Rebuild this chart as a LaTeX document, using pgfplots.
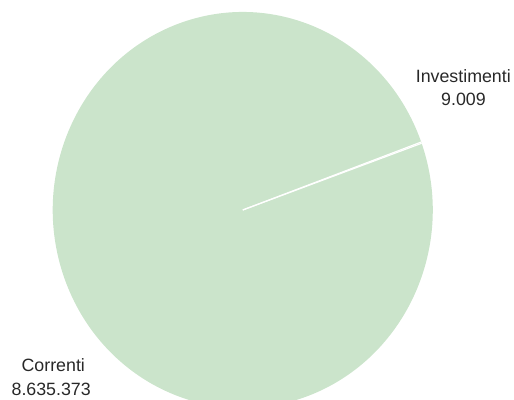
\documentclass[border=0pt]{standalone}
\usepackage{pgfplots}
\pgfplotsset{compat=1.18}
\usepackage{pgfplotstable}
\usepackage{fontspec}
\setmainfont{Liberation Sans}
\definecolor{piegreen}{RGB}{203,228,203}
\definecolor{txt}{RGB}{40,40,40}
\pgfplotstableread{
label value
Correnti 8635373
Investimenti 9009
}\piedata
\pgfplotstablegetelem{0}{value}\of\piedata \edef\vA{\pgfplotsretval}
\pgfplotstablegetelem{1}{value}\of\piedata \edef\vB{\pgfplotsretval}
% start angle of the first boundary (parametric, degrees)
\def\startang{19.7}
\edef\angB{\fpeval{\startang+360*\vB/(\vA+\vB)}}
\edef\angEnd{\fpeval{\startang+360}}
\begin{document}
\begin{tikzpicture}
\begin{axis}[
  scale only axis, width=514bp, height=400bp,
  xmin=0, xmax=514, ymin=0, ymax=400,
  hide axis, clip=false,
]
\coordinate (ll) at (axis cs:0,0);
\coordinate (ur) at (axis cs:514,400);
\coordinate (c) at (axis cs:242.75,190);
% Investimenti wedge
\fill[piegreen] (c) -- ([shift={(\startang:190bp and 198bp)}]c)
  arc[start angle=\startang, end angle=\angB, x radius=190bp, y radius=198bp] -- cycle;
% Correnti wedge
\fill[piegreen] (c) -- ([shift={(\angB:190bp and 198bp)}]c)
  arc[start angle=\angB, end angle=\angEnd, x radius=190bp, y radius=198bp] -- cycle;
\draw[white, line width=1.2bp] (c) -- ([shift={(\startang:190bp and 198bp)}]c);
\draw[white, line width=1.2bp] (c) -- ([shift={(\angB:190bp and 198bp)}]c);
\begin{scope}[every node/.style={inner sep=0pt, anchor=base, text=txt, font=\fontsize{17.8bp}{22bp}\selectfont}]
\node at (axis cs:463.3,318) {Investimenti};
\node at (axis cs:463.5,294.7) {9.009};
\node at (axis cs:53.3,28.3) {Correnti};
\node at (axis cs:51.2,5) {8.635.373};
\end{scope}
\end{axis}
\pgfresetboundingbox
\path[use as bounding box] (ll) rectangle (ur);
\end{tikzpicture}
\end{document}
